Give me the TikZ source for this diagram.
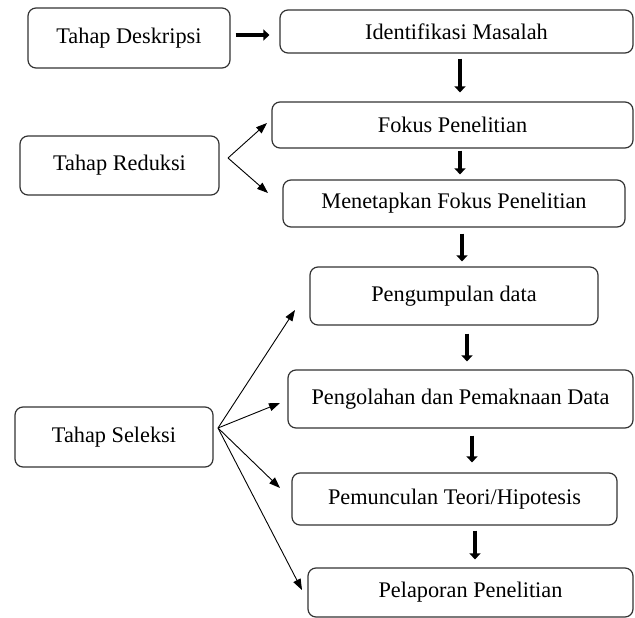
\documentclass[tikz,border=0pt]{standalone}
\usepackage{fontspec}
\setmainfont{Liberation Serif}
\usetikzlibrary{arrows.meta,calc}
\begin{document}
\begin{tikzpicture}[x=1pt,y=-1pt,
  box/.style={draw=black!80, line width=1.2pt, rounded corners=8pt, inner sep=0pt,
    font=\fontsize{22.3}{26}\selectfont, anchor=center},
  thickarrow/.style={line width=4.5pt, -{Triangle[width=11pt,length=6pt]}},
  thinarrow/.style={line width=0.9pt, -{Triangle[width=8pt,length=11pt]}}]
\useasboundingbox (0,0) rectangle (635,618);
% boxes
\node[box, minimum width=202pt, minimum height=60pt] (desk) at (129,38) {Tahap Deskripsi};
\node[box, minimum width=353pt, minimum height=43pt] (ident) at (456.5,31.5) {Identifikasi Masalah};
\node[box, minimum width=361pt, minimum height=46pt] (fokus) at (452.5,125) {Fokus Penelitian};
\node[box, minimum width=199pt, minimum height=59pt] (redu) at (119.5,165.5) {Tahap Reduksi};
\node[box, minimum width=342pt, minimum height=47pt] (menet) at (454,203.5) {Menetapkan Fokus Penelitian};
\node[box, minimum width=288pt, minimum height=58pt] (pengum) at (454,296) {Pengumpulan data};
\node[box, minimum width=345pt, minimum height=58pt] (pengol) at (460.5,399) {Pengolahan dan Pemaknaan Data};
\node[box, minimum width=198pt, minimum height=60pt] (sel) at (114,437) {Tahap Seleksi};
\node[box, minimum width=325pt, minimum height=52pt] (pemun) at (454.5,499) {Pemunculan Teori/Hipotesis};
\node[box, minimum width=325pt, minimum height=49pt] (pelap) at (470.5,592.5) {Pelaporan Penelitian};
% helper x positions
\coordinate (x1) at (460,0);
\coordinate (x2) at (460,0);
\coordinate (x3) at (462,0);
\coordinate (x4) at (467,0);
\coordinate (x5) at (472,0);
\coordinate (x6) at (475,0);
\coordinate (y0) at (0,35);
% thick arrows
\draw[thickarrow, shorten <=5pt, shorten >=10pt] (desk.east |- y0) -- (ident.west |- y0);
\draw[thickarrow, shorten <=5pt, shorten >=9pt] (ident.south -| x1) -- (fokus.north -| x1);
\draw[thickarrow, shorten <=2pt, shorten >=5pt] (fokus.south -| x2) -- (menet.north -| x2);
\draw[thickarrow, shorten <=6pt, shorten >=5pt] (menet.south -| x3) -- (pengum.north -| x3);
\draw[thickarrow, shorten <=8pt, shorten >=8pt] (pengum.south -| x4) -- (pengol.north -| x4);
\draw[thickarrow, shorten <=7pt, shorten >=10pt] (pengol.south -| x5) -- (pemun.north -| x5);
\draw[thickarrow, shorten <=5pt, shorten >=8pt] (pemun.south -| x6) -- (pelap.north -| x6);
% fan arrows
\coordinate (rf) at (228,158);
\coordinate (r1) at (267,123);
\coordinate (r2) at (268,193);
\draw[thinarrow] (rf) -- (r1);
\draw[thinarrow] (rf) -- (r2);
\coordinate (sf) at (218,428);
\coordinate (s1) at (295,310);
\coordinate (s2) at (280,403);
\coordinate (s3) at (280,488);
\coordinate (s4) at (302,590);
\draw[thinarrow] (sf) -- (s1);
\draw[thinarrow] (sf) -- (s2);
\draw[thinarrow] (sf) -- (s3);
\draw[thinarrow] (sf) -- (s4);
\end{tikzpicture}
\end{document}
